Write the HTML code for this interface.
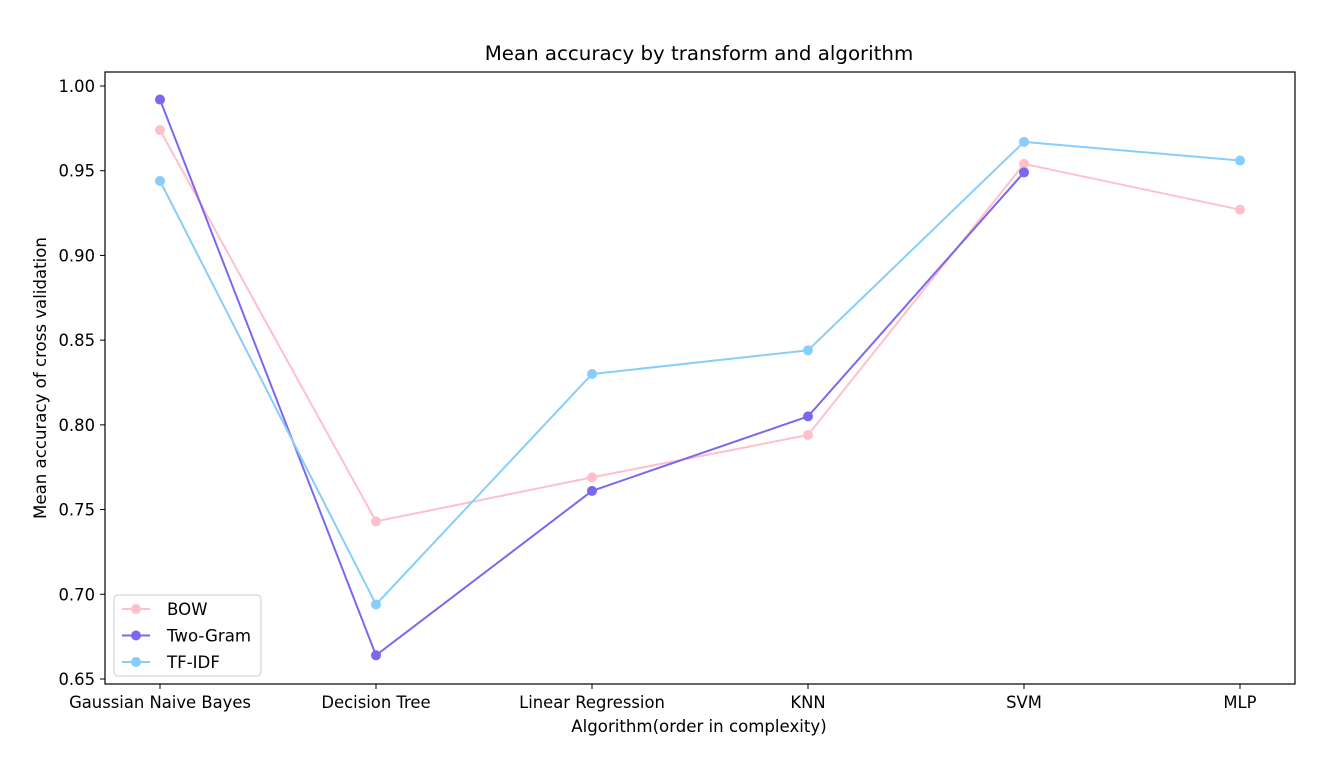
<!DOCTYPE html>
<html><head><meta charset="utf-8"><style>
html,body{margin:0;padding:0;background:#fff;}
svg text{font-family:"DejaVu Sans","Liberation Sans",sans-serif;fill:#000;}
</style></head><body>
<svg id="chart" width="1332" height="766" xmlns="http://www.w3.org/2000/svg">
<text x="699" y="60" font-size="19.8" text-anchor="middle">Mean accuracy by transform and algorithm</text>
<rect x="105" y="72" width="1190" height="612" fill="none" stroke="#000" stroke-width="1.2"/>
<g id="yticks"></g><g id="xticks"></g><g id="series"></g>
<text x="699" y="732" font-size="16.6" text-anchor="middle">Algorithm(order in complexity)</text>
<text transform="translate(46,378) rotate(-90)" font-size="16.6" text-anchor="middle">Mean accuracy of cross validation</text>
<g>
<rect x="114" y="595" width="147" height="81" rx="4" fill="#fff" fill-opacity="0.8" stroke="#ccc"/>
<g id="legend"></g>
</g>
</svg>
<script>
const categories=["Gaussian Naive Bayes","Decision Tree","Linear Regression","KNN","SVM","MLP"];
const bowValues=[0.974,0.743,0.769,0.794,0.954,0.927];
const twoGramValues=[0.992,0.664,0.761,0.805,0.949];
const tfidfValues=[0.944,0.694,0.830,0.844,0.967,0.956];
const yTicks=[0.65,0.70,0.75,0.80,0.85,0.90,0.95,1.00];
const seriesNames=["BOW","Two-Gram","TF-IDF"];
const NS="http://www.w3.org/2000/svg";
function xPos(i){return 160+i*216;}
function yPos(v){return 679-(v-0.65)/0.35*593;}
function mk(tag,attrs,parent){const e=document.createElementNS(NS,tag);for(const k in attrs)e.setAttribute(k,attrs[k]);parent.appendChild(e);return e;}
const yg=document.getElementById('yticks');
yTicks.forEach(t=>{const y=yPos(t);
 const l=mk('line',{x1:100,x2:105,y1:y,y2:y,stroke:'#000'},yg);
 
 
 const tx=mk('text',{x:95,y:y+6,'font-size':16.4,'text-anchor':'end'},yg);tx.textContent=t.toFixed(2);
 
 });
const xg=document.getElementById('xticks');
categories.forEach((c,i)=>{const x=xPos(i);
 const l=mk('line',{x1:x,x2:x,y1:684,y2:689,stroke:'#000'},xg);
 
 
 const tx=mk('text',{x:x,y:708,'font-size':16.4,'text-anchor':'middle'},xg);tx.textContent=c;
 
 });
const sg=document.getElementById('series');
const all=[[bowValues,'#ffc0cb'],[twoGramValues,'#7b68ee'],[tfidfValues,'#87cefa']];
all.forEach(([vals,col],si)=>{
 const g=mk('g',{},sg);
 
 
 mk('polyline',{points:vals.map((v,i)=>xPos(i)+','+yPos(v)).join(' '),fill:'none',stroke:col,'stroke-width':2},g);
 vals.forEach((v,i)=>{const c=mk('circle',{cx:xPos(i),cy:yPos(v),r:5,fill:col},g);
  
  });
});
const lg=document.getElementById('legend');
seriesNames.forEach((n,i)=>{const y=609+i*26.5;const col=all[i][1];
 const e=mk('g',{},lg);
 
 
 mk('line',{x1:122,x2:150,y1:y,y2:y,stroke:col,'stroke-width':2},e);
 mk('circle',{cx:136,cy:y,r:5,fill:col},e);
 const t=mk('text',{x:167,y:y+6,'font-size':16.6},e);t.textContent=n;});
</script>
</body></html>
